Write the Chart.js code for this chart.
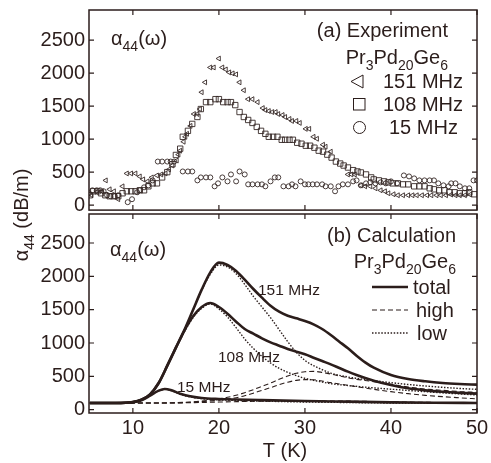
<!DOCTYPE html>
<html><head><meta charset="utf-8">
<script src="https://cdn.jsdelivr.net/npm/chart.js@4.4.0/dist/chart.umd.min.js"></script>
<style>
html,body{margin:0;padding:0;background:#fff;}
#wrap{position:relative;width:491px;height:463px;}
canvas{position:absolute;left:0;top:0;}
</style></head><body>
<div id="wrap"><canvas id="c1" width="491" height="215"></canvas><canvas id="c2" width="491" height="463"></canvas></div>
<script>
// ---------- data: (a) experiment ----------
const tExp151 = [5.2,5.8,6.4,6.85,7.3,7.8,8.3,8.8,9.3,9.8,10.3,10.8,11.2,11.7,12.2,12.8,13.3,13.8,14.2,14.6,15.1,15.3,15.5,15.9,16.1,16.3,16.7,17.1,17.5,17.8,18.0,18.4,19.0,19.4,20.0,20.4,20.8,21.2,21.6,22.0,22.4,22.9,23.4,23.9,24.5,25.1,25.4,25.8,26.2,26.6,26.9,27.4,27.7,28.2,28.5,29.0,29.4,30.1,30.5,31.0,31.4,32.1,32.4,33.0,35.0,35.4,35.8,36.5,37.0,37.6,38.2,38.8,39.3,39.7,40.3,40.8,41.4,42.0,42.5,43.0,43.6,44.2,44.7,45.3,45.8,46.4,47.0,47.5,48.0,48.6,49.2];
const vExp151 = [150,200,210,375,240,210,90,285,480,480,480,435,390,360,420,450,465,480,540,600,675,765,825,960,1035,1080,1200,1380,1380,1455,1710,1860,2085,2085,2220,2085,2055,2010,1995,1980,1860,1740,1605,1605,1560,1470,1440,1425,1410,1410,1380,1365,1335,1305,1275,1275,1245,1155,1155,1035,1005,915,885,810,465,465,465,300,285,285,255,225,210,180,165,150,150,150,150,150,150,150,150,150,150,150,160,150,150,150,160];
const tExp108 = [5.0,5.4,5.9,6.3,6.8,7.3,7.8,8.3,8.8,9.3,9.8,10.3,10.8,11.3,11.8,12.3,12.8,13.4,14.0,14.6,15.0,15.5,15.8,16.4,16.9,17.5,17.9,18.5,19.0,19.6,20.0,20.5,21.0,21.4,21.9,22.4,22.9,23.4,23.9,24.4,24.9,25.4,25.8,26.3,26.8,27.3,27.7,28.2,28.6,29.1,29.6,30.1,30.6,31.1,31.6,32.1,32.6,33.1,33.6,34.1,34.5,35.0,35.6,36.1,36.5,37.1,37.7,38.0,38.6,39.2,39.7,40.2,40.8,41.4,42.0,42.7,43.3,43.9,44.5,45.0,45.6,46.2,46.8,47.4,48.0,48.6,49.1,49.7];
const vExp108 = [150,210,210,180,150,135,135,135,180,210,210,210,225,225,285,330,330,420,500,620,760,855,1035,1125,1230,1335,1455,1560,1560,1605,1605,1560,1560,1560,1515,1410,1335,1290,1245,1185,1125,1080,1035,1035,1035,990,990,990,990,945,930,900,900,870,825,810,765,720,660,630,600,570,530,510,495,465,420,390,375,360,345,330,330,315,315,285,285,285,255,240,225,225,195,195,180,180,195,165];
const tExp15 = [4.9,5.3,5.8,6.2,6.6,7.0,7.4,7.9,8.3,9.4,9.9,10.5,10.8,11.3,11.8,12.3,12.9,13.4,14.0,14.4,14.8,15.8,16.4,16.9,17.5,17.9,18.5,19.0,19.5,19.9,20.4,21.0,21.4,22.0,22.4,23.0,23.4,23.9,24.5,25.0,25.4,26.0,26.5,26.9,27.5,28.1,28.5,28.9,29.5,30.0,30.4,30.9,31.4,32.0,32.4,33.0,33.5,33.9,34.4,35.0,35.6,36.0,36.5,37.1,37.6,38.2,38.8,39.4,40.0,40.7,41.5,42.1,42.7,43.3,43.9,44.5,45.0,45.5,46.1,46.7,47.0,47.5,48.0,48.6,49.1,49.6,50.0];
const vExp15 = [180,225,225,225,210,150,135,135,150,45,90,195,225,270,300,375,660,660,660,660,660,510,510,510,375,420,420,420,285,330,420,360,465,360,510,465,315,315,315,315,285,360,420,420,285,285,315,285,360,315,315,315,315,315,285,285,210,285,315,315,360,375,300,330,345,330,345,330,360,330,450,435,405,375,375,375,375,330,300,285,330,330,285,255,255,375,375];

// ---------- data: (b) calculation ----------
const tCalc = [5,8,10,11,12,13,14,15,16,17,18,19,20,21,22,23,24,25,26,27,28,29,30,31,32,33,34,35,36,37,38,40,42,44,46,48,50];
const total151 = [100,100,115,150,230,400,660,930,1200,1500,1800,2060,2205,2170,2080,1950,1810,1680,1560,1470,1410,1370,1330,1280,1210,1120,1020,920,810,710,630,520,460,425,400,385,375];
const low151   = [100,100,115,150,230,400,660,930,1200,1495,1790,2030,2170,2140,2040,1880,1700,1540,1380,1200,1020,860,740,660,600,548,515,490,470,452,436,405,378,355,335,318,305];
const high151  = [100,100,100,100,100,100,102,105,110,118,128,142,160,185,215,255,300,350,400,455,505,545,568,575,560,535,505,478,455,437,420,380,340,310,290,272,258];
const total108 = [100,100,115,150,230,400,660,930,1190,1400,1540,1600,1540,1440,1320,1210,1140,1070,1010,960,910,870,830,780,730,680,625,570,520,475,435,370,320,290,268,252,240];
const low108   = [100,100,115,150,230,400,660,925,1170,1380,1520,1585,1510,1390,1230,1060,920,800,700,620,560,510,470,440,415,390,375,362,350,338,327,307,288,270,252,236,220];
const high108  = [100,100,100,100,100,100,100,102,106,112,120,130,143,160,180,210,248,290,330,375,412,440,450,448,430,405,385,365,345,325,305,270,240,215,195,178,162];
const tCalc15  = [5,8,10,11,12,13,13.7,14.5,15.5,16.5,18,20,22,25,30,35,40,45,50];
const total15  = [100,100,110,140,210,285,310,290,240,205,175,160,152,143,130,120,110,104,100];
const low15    = [100,100,110,140,208,282,305,283,232,195,165,148,138,128,115,107,100,97,95];
const high15   = [100,100,100,100,100,100,100,101,102,104,108,114,120,127,132,128,118,108,100];

// ---------- axes ----------
const xTicks = [10,20,30,40,50];
const yTicks = [0,500,1000,1500,2000,2500];

const INK = '#2b1d1b';
const MARK = '#352826';
const FONT = '"Liberation Sans", Arial, Helvetica, sans-serif';

function pts(t, v) { return t.map((x, i) => ({x: x, y: v[i]})); }

function rich(ctx, parts, x, yc, align, size) {
  const sub = size * 0.7;
  let w = 0;
  parts.forEach(([s, isSub]) => { ctx.font = (isSub ? sub : size) + 'px ' + FONT; w += ctx.measureText(s).width; });
  let cx = align === 'right' ? x - w : (align === 'center' ? x - w / 2 : x);
  const base = yc + size * 0.36;
  ctx.textAlign = 'left'; ctx.textBaseline = 'alphabetic'; ctx.fillStyle = INK;
  parts.forEach(([s, isSub]) => {
    ctx.font = (isSub ? sub : size) + 'px ' + FONT;
    ctx.fillText(s, cx, isSub ? base + size * 0.27 : base);
    cx += ctx.measureText(s).width;
  });
}

const alphaParts = [['α',0],['44',1],['(ω)',0]];
const compParts = [['Pr',0],['3',1],['Pd',0],['20',1],['Ge',0],['6',1]];

function framePlugin(drawTexts) {
  return {
    id: 'frame',
    afterDraw(chart) {
      const ctx = chart.ctx, a = chart.chartArea, x = chart.scales.x, y = chart.scales.y;
      ctx.save();
      ctx.strokeStyle = INK;
      ctx.lineWidth = 1.5;
      ctx.strokeRect(a.left, a.top, a.right - a.left, a.bottom - a.top);
      ctx.lineWidth = 1.2;
      ctx.beginPath();
      xTicks.forEach(v => {
        const px = x.getPixelForValue(v);
        ctx.moveTo(px, a.bottom); ctx.lineTo(px, a.bottom - 5);
        ctx.moveTo(px, a.top); ctx.lineTo(px, a.top + 5);
      });
      yTicks.forEach(v => {
        const py = y.getPixelForValue(v);
        ctx.moveTo(a.left, py); ctx.lineTo(a.left + 5, py);
        ctx.moveTo(a.right, py); ctx.lineTo(a.right - 5, py);
      });
      ctx.stroke();
      drawTexts(ctx, chart);
      ctx.restore();
    }
  };
}

function baseScales(yMin, yMax, xHeight, showXLabels) {
  return {
    x: {
      type: 'linear', min: 4.9, max: 50,
      grid: {display: false, drawTicks: false, tickLength: 0}, border: {display: false},
      ticks: {display: showXLabels, font: {family: FONT, size: 20}, color: INK, padding: 3, maxRotation: 0, autoSkip: false,
              callback: v => String(v)},
      afterBuildTicks: s => { s.ticks = xTicks.map(v => ({value: v})); },
      afterFit: s => { s.height = xHeight; s.paddingLeft = 0; s.paddingRight = 0; }
    },
    y: {
      type: 'linear', min: yMin, max: yMax,
      grid: {display: false, drawTicks: false, tickLength: 0}, border: {display: false},
      ticks: {font: {family: FONT, size: 20}, color: INK, padding: 4, autoSkip: false,
              callback: v => String(v)},
      afterBuildTicks: s => { s.ticks = yTicks.map(v => ({value: v})); },
      afterFit: s => { s.width = 89; s.paddingTop = 0; s.paddingBottom = 0; }
    }
  };
}

const common = {
  responsive: false, animation: false, devicePixelRatio: 1, events: [],
  plugins: {legend: {display: false}, tooltip: {enabled: false}}
};

// ---------- panel (a) ----------
new Chart(document.getElementById('c1'), {
  type: 'scatter',
  data: {datasets: [
    {data: pts(tExp151, vExp151), pointStyle: 'triangle', rotation: -90, pointRadius: 2.8, borderColor: MARK, borderWidth: 0.9, backgroundColor: 'rgba(0,0,0,0)'},
    {data: pts(tExp108, vExp108), pointStyle: 'rect', pointRadius: 3.8, borderColor: MARK, borderWidth: 0.9, backgroundColor: 'rgba(0,0,0,0)'},
    {data: pts(tExp15, vExp15), pointStyle: 'circle', pointRadius: 2.5, borderColor: MARK, borderWidth: 0.9, backgroundColor: 'rgba(0,0,0,0)'}
  ]},
  options: Object.assign({}, common, {
    layout: {padding: {left: 0, right: 14, top: 10, bottom: 0}},
    scales: baseScales(-75, 2955, 3, false)
  }),
  plugins: [framePlugin((ctx) => {
    rich(ctx, alphaParts, 111, 38, 'left', 20);
    rich(ctx, [['(a) Experiment',0]], 448, 30, 'right', 20);
    rich(ctx, compParts, 448, 57, 'right', 20);
    rich(ctx, [['151 MHz',0]], 383, 81, 'left', 20);
    rich(ctx, [['108 MHz',0]], 383, 104, 'left', 20);
    rich(ctx, [['15 MHz',0]], 389, 127, 'left', 20);
    ctx.strokeStyle = INK; ctx.lineWidth = 1;
    ctx.beginPath();
    ctx.moveTo(363, 75); ctx.lineTo(351, 81.5); ctx.lineTo(363, 88); ctx.closePath();
    ctx.stroke();
    ctx.strokeRect(353.5, 98.5, 11.5, 11.5);
    ctx.beginPath(); ctx.arc(359.5, 127.5, 6, 0, Math.PI * 2); ctx.stroke();
  })]
});

// ---------- panel (b) ----------
const totalStyle = {borderColor: INK, borderWidth: 2.6, pointRadius: 0, cubicInterpolationMode: 'monotone', fill: false};
const highStyle = {borderColor: INK, borderWidth: 1.1, borderDash: [5, 3], pointRadius: 0, cubicInterpolationMode: 'monotone', fill: false};
const lowStyle = {borderColor: INK, borderWidth: 1.4, borderDash: [1.5, 1.6], pointRadius: 0, cubicInterpolationMode: 'monotone', fill: false};

new Chart(document.getElementById('c2'), {
  type: 'line',
  data: {datasets: [
    Object.assign({data: pts(tCalc, total151)}, totalStyle),
    Object.assign({data: pts(tCalc, total108)}, totalStyle),
    Object.assign({data: pts(tCalc15, total15)}, totalStyle),
    Object.assign({data: pts(tCalc, low151)}, lowStyle),
    Object.assign({data: pts(tCalc, low108)}, lowStyle),
    Object.assign({data: pts(tCalc15, low15)}, lowStyle),
    Object.assign({data: pts(tCalc, high151)}, highStyle),
    Object.assign({data: pts(tCalc, high108)}, highStyle),
    Object.assign({data: pts(tCalc15, high15)}, highStyle)
  ]},
  options: Object.assign({}, common, {
    layout: {padding: {left: 0, right: 14, top: 214, bottom: 0}},
    scales: baseScales(-50, 2935, 50, true)
  }),
  plugins: [framePlugin((ctx) => {
    rich(ctx, alphaParts, 110, 249, 'left', 20);
    rich(ctx, [['(b) Calculation',0]], 456, 235, 'right', 20);
    rich(ctx, compParts, 456, 261, 'right', 20);
    rich(ctx, [['total',0]], 413, 287, 'left', 20);
    rich(ctx, [['high',0]], 416, 310, 'left', 20);
    rich(ctx, [['low',0]], 417, 333, 'left', 20);
    ctx.strokeStyle = INK;
    ctx.lineWidth = 2.6; ctx.setLineDash([]);
    ctx.beginPath(); ctx.moveTo(372, 287); ctx.lineTo(408, 287); ctx.stroke();
    ctx.lineWidth = 1.1; ctx.setLineDash([5, 3]);
    ctx.beginPath(); ctx.moveTo(372, 310); ctx.lineTo(408, 310); ctx.stroke();
    ctx.lineWidth = 1.4; ctx.setLineDash([1.5, 1.6]);
    ctx.beginPath(); ctx.moveTo(372, 333); ctx.lineTo(408, 333); ctx.stroke();
    ctx.setLineDash([]);
    rich(ctx, [['151 MHz',0]], 258, 289, 'left', 15.5);
    rich(ctx, [['108 MHz',0]], 218, 356, 'left', 15.5);
    rich(ctx, [['15 MHz',0]], 177, 386, 'left', 15.5);
    rich(ctx, [['T (K)',0]], 285, 450, 'center', 20);
    ctx.save();
    ctx.translate(21, 215);
    ctx.rotate(-Math.PI / 2);
    rich(ctx, [['α',0],['44',1],[' (dB/m)',0]], 0, 0, 'center', 20);
    ctx.restore();
  })]
});
</script>
</body></html>
